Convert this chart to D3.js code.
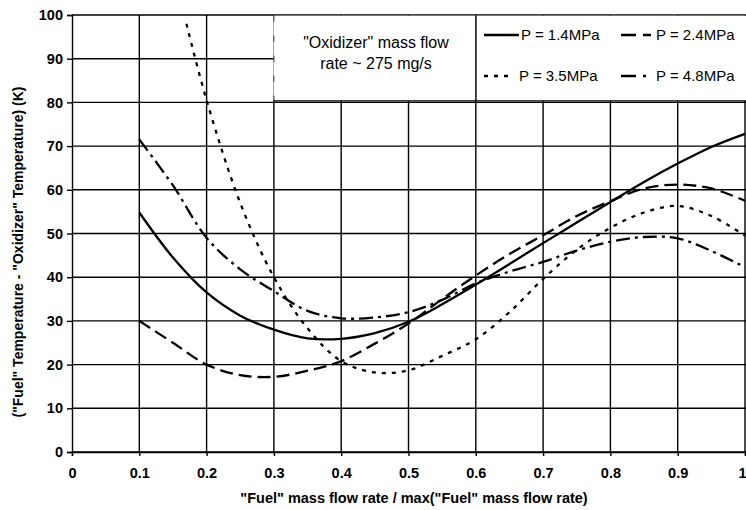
<!DOCTYPE html>
<html>
<head>
<meta charset="utf-8">
<script src="https://cdn.jsdelivr.net/npm/d3@7"></script>
<style>
  html, body { margin: 0; padding: 0; background: #fff; }
  svg { display: block; }
  text { font-family: "Liberation Sans", Arial, sans-serif; fill: #000; }
</style>
</head>
<body>
<svg id="chart" width="746" height="510"></svg>
<script>
// ---- data ----
const xs = [0.1, 0.15, 0.2, 0.25, 0.3, 0.35, 0.4, 0.45, 0.5, 0.55, 0.6, 0.65, 0.7, 0.75, 0.8, 0.85, 0.9, 0.95, 1.0];
const p14 = [54.8, 44.5, 36.5, 31.2, 28.0, 26.0, 25.9, 27.2, 29.8, 33.8, 38.3, 43.0, 47.8, 52.5, 57.2, 61.8, 66.0, 69.8, 72.8];
const p24 = [30.0, 25.0, 20.0, 17.6, 17.2, 18.6, 20.8, 24.8, 29.4, 35.0, 40.4, 45.3, 49.6, 54.0, 57.4, 60.3, 61.2, 60.3, 57.5];
const xs35 = [0.17, 0.2, 0.25, 0.3, 0.35, 0.4, 0.45, 0.5, 0.55, 0.6, 0.65, 0.7, 0.75, 0.8, 0.85, 0.9, 0.95, 1.0];
const p35 = [98.0, 80.5, 57.0, 40.0, 28.3, 20.8, 18.2, 18.7, 22.0, 25.8, 32.0, 39.6, 46.3, 51.3, 54.8, 56.3, 54.0, 49.5];
const p48 = [71.5, 61.0, 49.0, 41.8, 36.8, 32.3, 30.6, 30.8, 32.0, 34.8, 38.6, 41.3, 43.5, 46.1, 48.1, 49.2, 48.9, 46.0, 42.3];
const seriesNames = ["P = 1.4MPa", "P = 2.4MPa", "P = 3.5MPa", "P = 4.8MPa"];
const yTicks = [0, 10, 20, 30, 40, 50, 60, 70, 80, 90, 100];
const xTicks = [0, 0.1, 0.2, 0.3, 0.4, 0.5, 0.6, 0.7, 0.8, 0.9, 1];
const xTickLabels = ["0", "0.1", "0.2", "0.3", "0.4", "0.5", "0.6", "0.7", "0.8", "0.9", "1"];
const annotation = ["\"Oxidizer\" mass flow", "rate ~ 275 mg/s"];
const xTitle = "\"Fuel\" mass flow rate / max(\"Fuel\" mass flow rate)";
const yTitle = "(\"Fuel\" Temperature - \"Oxidizer\" Temperature) (K)";

// ---- layout ----
const svg = d3.select("#chart");
const x = d3.scaleLinear().domain([0, 1]).range([72, 745]);
const y = d3.scaleLinear().domain([0, 100]).range([452, 15]);
const right = 746;

const series = [
  { name: seriesNames[0], xv: xs, yv: p14, dash: null },
  { name: seriesNames[1], xv: xs, yv: p24, dash: "13,6" },
  { name: seriesNames[2], xv: xs35, yv: p35, dash: "4,6" },
  { name: seriesNames[3], xv: xs, yv: p48, dash: "14,5,3,5" }
];

// gridlines
const grid = svg.append("g").attr("stroke", "#000").attr("stroke-width", 1.4);
grid.selectAll("line.h").data(yTicks).join("line")
  .attr("x1", x(0)).attr("x2", right)
  .attr("y1", d => y(d)).attr("y2", d => y(d));
grid.selectAll("line.v").data(xTicks.slice(1)).join("line")
  .attr("x1", d => x(d)).attr("x2", d => x(d))
  .attr("y1", y(100)).attr("y2", y(0));

// annotation box and legend box (cover gridlines)
const boxTop = y(100) + 0.7, boxBot = y(80) - 1.5;
svg.append("rect").attr("x", x(0.3) - 0.5).attr("y", boxTop)
  .attr("width", 476 - x(0.3)).attr("height", boxBot - boxTop).attr("fill", "#fff");
svg.append("rect").attr("x", 476).attr("y", boxTop)
  .attr("width", right - 476).attr("height", boxBot - boxTop).attr("fill", "#fff");
// borders
svg.append("line").attr("x1", x(0.3)).attr("x2", x(0.3)).attr("y1", boxTop).attr("y2", boxBot)
  .attr("stroke", "#333").attr("stroke-width", 1).attr("stroke-dasharray", "6,14");
svg.append("line").attr("x1", 476).attr("x2", 476).attr("y1", boxTop).attr("y2", boxBot)
  .attr("stroke", "#000").attr("stroke-width", 1.3);
svg.append("line").attr("x1", x(0.3)).attr("x2", right).attr("y1", boxBot).attr("y2", boxBot)
  .attr("stroke", "#000").attr("stroke-width", 1.3);

// axes
const yAxis = svg.append("g").attr("transform", `translate(${x(0)},0)`)
  .call(d3.axisLeft(y).tickValues(yTicks).tickSize(5).tickPadding(4).tickFormat(d3.format("d")));
const xAxis = svg.append("g").attr("transform", `translate(0,${y(0)})`)
  .call(d3.axisBottom(x).tickValues(xTicks).tickSize(4).tickPadding(12)
    .tickFormat((d, i) => xTickLabels[i]));
[yAxis, xAxis].forEach(g => {
  g.selectAll("path.domain").attr("stroke", "#000").attr("stroke-width", 1.4);
  g.selectAll(".tick line").attr("stroke", "#000").attr("stroke-width", 1.4);
  g.selectAll("text").attr("font-family", "'Liberation Sans', Arial, sans-serif")
    .attr("font-size", 14.5).attr("font-weight", "bold").attr("fill", "#000");
});
// keep the last x label inside the picture
xAxis.selectAll(".tick text").filter(d => d === 1).attr("text-anchor", "end").attr("x", 1);

// clip
svg.append("clipPath").attr("id", "plotclip").append("rect")
  .attr("x", x(0)).attr("y", y(100) - 2).attr("width", right - x(0)).attr("height", y(0) - y(100) + 2);

// curves
const line = d3.line().x(d => x(d[0])).y(d => y(d[1])).curve(d3.curveCatmullRom.alpha(0.5));
svg.append("g").attr("clip-path", "url(#plotclip)")
  .selectAll("path").data(series).join("path")
  .attr("d", s => line(s.xv.map((v, i) => [v, s.yv[i]])))
  .attr("fill", "none").attr("stroke", "#000").attr("stroke-width", 2.3)
  .attr("stroke-dasharray", s => s.dash);

// legend
const leg = svg.append("g");
const legItems = [
  { s: series[0], lx: 484, lw: 35, tx: 521, ty: 35, dash: null },
  { s: series[1], lx: 621, lw: 30, tx: 656, ty: 35, dash: "15,7,8" },
  { s: series[2], lx: 484, lw: 30, tx: 519, ty: 76, dash: "4,6" },
  { s: series[3], lx: 621, lw: 26, tx: 656, ty: 76, dash: "15,7,3,20" }
];
legItems.forEach(it => {
  leg.append("line").attr("x1", it.lx).attr("x2", it.lx + it.lw)
    .attr("y1", it.ty).attr("y2", it.ty)
    .attr("stroke", "#000").attr("stroke-width", 2.3).attr("stroke-dasharray", it.dash);
  leg.append("text").attr("x", it.tx).attr("y", it.ty).attr("dy", "0.36em")
    .attr("font-size", 15).text(it.s.name);
});

// annotation text
svg.append("g").selectAll("text").data(annotation).join("text")
  .attr("x", 376).attr("y", (d, i) => 42 + i * 21).attr("dy", "0.36em")
  .attr("text-anchor", "middle").attr("font-size", 16).text(d => d);

// axis titles
svg.append("text").attr("x", 414).attr("y", 498).attr("dy", "0.36em")
  .attr("text-anchor", "middle").attr("font-size", 14.5).attr("font-weight", "bold").text(xTitle);
svg.append("text").attr("transform", "translate(18,252) rotate(-90)").attr("dy", "0.36em")
  .attr("text-anchor", "middle").attr("font-size", 14).attr("font-weight", "bold").text(yTitle);
</script>
</body>
</html>
